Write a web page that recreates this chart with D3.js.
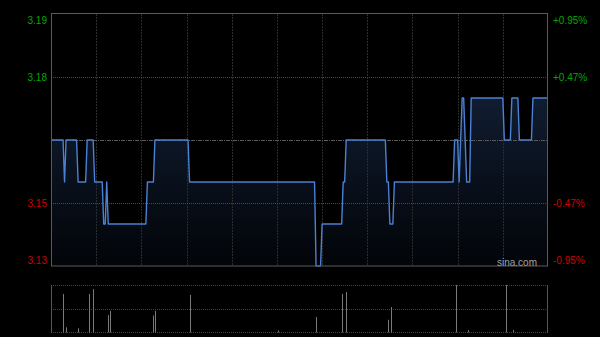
<!DOCTYPE html>
<html><head><meta charset="utf-8">
<script src="https://cdn.jsdelivr.net/npm/d3@7"></script>
<style>
html,body{margin:0;padding:0;background:#000;overflow:hidden}
svg{display:block}
text{font-family:Arial,"Liberation Sans",sans-serif;font-size:10px}
</style>
</head><body>
<svg id="c" width="600" height="337"></svg>
<script>
// ---- data ----
const prevClose = 3.16;
const priceTicks  = [3.19, 3.175, 3.16, 3.145, 3.13];
const priceLabels = ["3.19", "3.18", "", "3.15", "3.13"];
const pctLabels   = ["+0.95%", "+0.47%", "", "-0.47%", "-0.95%"];
const timeTicks   = [30, 60, 90, 120, 150, 180, 210, 240, 270, 300];
// per-minute last price, minute 0 .. 330
const prices = [
 3.16,3.16,3.16,3.16,3.16,3.16,3.16,3.16,3.16,3.15,
 3.16,3.16,3.16,3.16,3.16,3.16,3.16,3.16,3.15,3.15,
 3.15,3.15,3.15,3.15,3.16,3.16,3.16,3.16,3.16,3.15,
 3.15,3.15,3.15,3.15,3.15,3.14,3.14,3.15,3.14,3.14,
 3.14,3.14,3.14,3.14,3.14,3.14,3.14,3.14,3.14,3.14,
 3.14,3.14,3.14,3.14,3.14,3.14,3.14,3.14,3.14,3.14,
 3.14,3.14,3.14,3.14,3.15,3.15,3.15,3.15,3.15,3.16,
 3.16,3.16,3.16,3.16,3.16,3.16,3.16,3.16,3.16,3.16,
 3.16,3.16,3.16,3.16,3.16,3.16,3.16,3.16,3.16,3.16,
 3.16,3.16,3.15,3.15,3.15,3.15,3.15,3.15,3.15,3.15,
 3.15,3.15,3.15,3.15,3.15,3.15,3.15,3.15,3.15,3.15,
 3.15,3.15,3.15,3.15,3.15,3.15,3.15,3.15,3.15,3.15,
 3.15,3.15,3.15,3.15,3.15,3.15,3.15,3.15,3.15,3.15,
 3.15,3.15,3.15,3.15,3.15,3.15,3.15,3.15,3.15,3.15,
 3.15,3.15,3.15,3.15,3.15,3.15,3.15,3.15,3.15,3.15,
 3.15,3.15,3.15,3.15,3.15,3.15,3.15,3.15,3.15,3.15,
 3.15,3.15,3.15,3.15,3.15,3.15,3.15,3.15,3.15,3.15,
 3.15,3.15,3.15,3.15,3.15,3.15,3.13,3.13,3.13,3.13,
 3.14,3.14,3.14,3.14,3.14,3.14,3.14,3.14,3.14,3.14,
 3.14,3.14,3.14,3.14,3.15,3.15,3.16,3.16,3.16,3.16,
 3.16,3.16,3.16,3.16,3.16,3.16,3.16,3.16,3.16,3.16,
 3.16,3.16,3.16,3.16,3.16,3.16,3.16,3.16,3.16,3.16,
 3.16,3.16,3.16,3.15,3.15,3.14,3.14,3.14,3.15,3.15,
 3.15,3.15,3.15,3.15,3.15,3.15,3.15,3.15,3.15,3.15,
 3.15,3.15,3.15,3.15,3.15,3.15,3.15,3.15,3.15,3.15,
 3.15,3.15,3.15,3.15,3.15,3.15,3.15,3.15,3.15,3.15,
 3.15,3.15,3.15,3.15,3.15,3.15,3.15,3.15,3.16,3.16,
 3.16,3.15,3.16,3.17,3.17,3.16,3.15,3.15,3.15,3.17,
 3.17,3.17,3.17,3.17,3.17,3.17,3.17,3.17,3.17,3.17,
 3.17,3.17,3.17,3.17,3.17,3.17,3.17,3.17,3.17,3.17,
 3.17,3.16,3.16,3.16,3.16,3.16,3.17,3.17,3.17,3.17,
 3.17,3.16,3.16,3.16,3.16,3.16,3.16,3.16,3.16,3.16,
 3.17,3.17,3.17,3.17,3.17,3.17,3.17,3.17,3.17,3.17,3.17
];
// volume (relative units) at the minutes where trades happened
const volMinutes = [8, 10, 18, 25, 28, 38, 39, 68, 69, 92, 151, 176, 193, 196, 224, 226, 269, 277, 302, 307];
const volValues  = [81, 10, 8, 81, 91, 36, 45, 35, 45, 79, 3, 32, 81, 85, 26, 53, 100, 4, 100, 4];
const volMax = 100;

// ---- chart ----
const svg = d3.select("#c");
const L = 51, R = 548, T = 14, B = 266;
const VT = 285, VB = 332;

const x = d3.scaleLinear().domain([0, 330]).range([L, R]);
const y = d3.scaleLinear().domain([3.13, 3.19]).range([B, T]);
const vy = d3.scaleLinear().domain([0, volMax]).range([VB, VT]);

const defs = svg.append("defs");
const grad = defs.append("linearGradient").attr("id", "g")
  .attr("gradientUnits", "userSpaceOnUse")
  .attr("x1", 0).attr("x2", 0).attr("y1", y(3.17)).attr("y2", B);
grad.append("stop").attr("offset", 0).attr("stop-color", "#101c30");
grad.append("stop").attr("offset", 1).attr("stop-color", "#020408");

// area fill
svg.append("path")
  .datum(prices)
  .attr("d", d3.area().x((d, i) => x(i)).y0(B).y1(d => y(d)))
  .attr("fill", "url(#g)");

// vertical grid
svg.append("g").selectAll("line").data(timeTicks).join("line")
  .attr("x1", d => Math.round(x(d)) + 0.5).attr("x2", d => Math.round(x(d)) + 0.5)
  .attr("y1", T).attr("y2", B)
  .attr("stroke", "#2c2c2c").attr("stroke-dasharray", "2,1");

// horizontal grid
svg.append("g").selectAll("line").data([priceTicks[1], priceTicks[3]]).join("line")
  .attr("x1", L).attr("x2", R)
  .attr("y1", d => Math.round(y(d)) + 0.5).attr("y2", d => Math.round(y(d)) + 0.5)
  .attr("stroke", "#4a4a4a").attr("stroke-dasharray", "1,1");
svg.append("line")
  .attr("x1", L).attr("x2", R)
  .attr("y1", Math.round(y(prevClose)) + 0.5).attr("y2", Math.round(y(prevClose)) + 0.5)
  .attr("stroke", "#5a5a5a").attr("stroke-dasharray", "4,1,1,1");

// price line
svg.append("path")
  .datum(prices)
  .attr("d", d3.line().x((d, i) => x(i)).y(d => y(d)))
  .attr("fill", "none").attr("stroke", "#4b80d2").attr("stroke-width", 1.4)
  .attr("stroke-linejoin", "round");

// border
svg.append("rect").attr("x", L + 0.5).attr("y", T - 0.5).attr("width", R - L - 1).attr("height", B - T + 0.5)
  .attr("fill", "none").attr("stroke", "#5a5a5a");

// labels
const lab = svg.append("g");
priceTicks.forEach((p, i) => {
  if (!priceLabels[i]) return;
  const yy = y(p) + (i === 0 ? 6 : i === priceTicks.length - 1 ? -6 : 0);
  const col = p > prevClose ? "#00a800" : "#d40000";
  lab.append("text").attr("x", 47).attr("y", yy).attr("dy", "0.35em")
    .attr("text-anchor", "end").attr("fill", col).text(priceLabels[i]);
  lab.append("text").attr("x", 553).attr("y", yy).attr("dy", "0.35em")
    .attr("text-anchor", "start").attr("fill", col).text(pctLabels[i]);
});

// watermark
svg.append("text").attr("x", 537).attr("y", 265.5).attr("text-anchor", "end")
  .attr("fill", "#a0a0a0").text("sina.com");

// volume panel
svg.append("g").selectAll("line").data([volMax, volMax / 2, 0]).join("line")
  .attr("x1", L).attr("x2", R)
  .attr("y1", d => Math.round(vy(d)) + 0.5).attr("y2", d => Math.round(vy(d)) + 0.5)
  .attr("stroke", "#444").attr("stroke-dasharray", "1,1");
svg.append("line").attr("x1", L + 0.5).attr("x2", L + 0.5).attr("y1", VT).attr("y2", VB + 1).attr("stroke", "#555");
svg.append("line").attr("x1", R - 0.5).attr("x2", R - 0.5).attr("y1", VT).attr("y2", VB + 1).attr("stroke", "#555");

svg.append("g").selectAll("line").data(volMinutes.map((m, i) => [m, volValues[i]])).join("line")
  .attr("x1", d => Math.round(x(d[0])) + 0.5).attr("x2", d => Math.round(x(d[0])) + 0.5)
  .attr("y1", VB + 0.5).attr("y2", d => vy(d[1]))
  .attr("stroke", "#7a7a7a").attr("stroke-width", 1);
</script>
</body></html>
